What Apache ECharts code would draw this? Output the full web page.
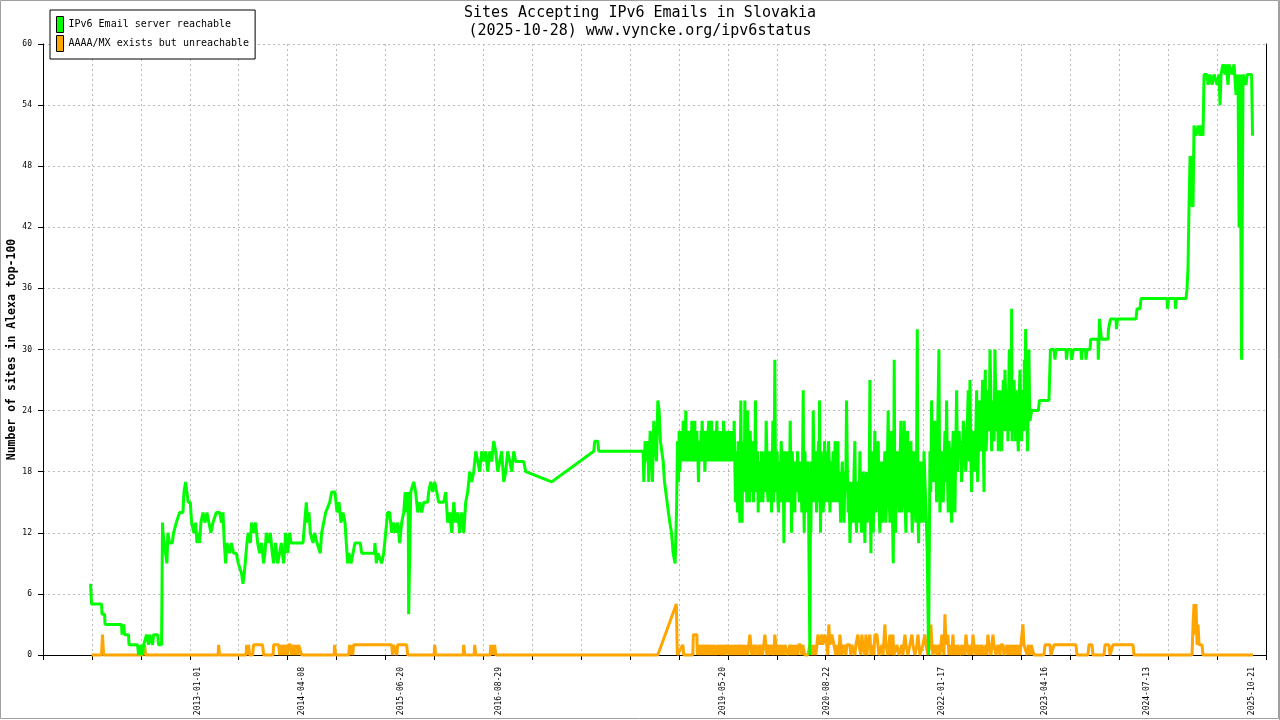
<!DOCTYPE html>
<html><head><meta charset="utf-8">
<script src="https://cdn.jsdelivr.net/npm/echarts@6/dist/echarts.min.js"></script>
<style>html,body{margin:0;padding:0;background:#fff}#chart{width:1280px;height:720px}</style>
</head><body><div id="chart"></div>
<script>
const titleLines = ['Sites Accepting IPv6 Emails in Slovakia', '(2025-10-28) www.vyncke.org/ipv6status'];
const seriesNames = ['IPv6 Email server reachable', 'AAAA/MX exists but unreachable'];
const seriesColors = ['#00ff00', '#ffa500'];
const yAxisName = 'Number of sites in Alexa top-100';
const yMin = 0, yMax = 60, yStep = 6;
const tickDates = ['2013-01-01','2014-04-08','2015-06-20','2016-08-29','2019-05-20','2020-08-22','2022-01-17','2023-04-16','2024-07-13','2025-10-21'];

// [decimal year, sites]
const reachable = [
[2011.701,7],[2011.713,5],[2011.834,5],[2011.840,4],[2011.871,4],[2011.877,3],[2012.077,3],[2012.083,2],[2012.102,3],[2012.114,2],
[2012.162,2],[2012.168,1],[2012.223,1],[2012.272,1],[2012.284,0],[2012.296,1],[2012.308,0],[2012.320,1],[2012.332,0],[2012.345,1],
[2012.369,1],[2012.381,2],[2012.405,1],[2012.418,2],[2012.442,2],[2012.454,1],[2012.466,2],[2012.515,2],[2012.527,1],[2012.563,1],
[2012.575,13],[2012.580,12],[2012.600,12],[2012.628,9],[2012.640,12],[2012.661,11],[2012.693,11],[2012.709,12],[2012.733,12],[2012.742,13],
[2012.782,14],[2012.823,14],[2012.835,16],[2012.855,17],[2012.871,16],[2012.887,15],[2012.912,15],[2012.928,13],[2012.956,12],[2012.976,13],
[2012.993,11],[2013.009,12],[2013.025,11],[2013.041,13],[2013.066,14],[2013.090,13],[2013.114,14],[2013.138,13],[2013.163,12],[2013.187,13],
[2013.211,13],[2013.228,14],[2013.268,14],[2013.292,13],[2013.309,14],[2013.325,11],[2013.341,9],[2013.357,11],[2013.390,10],[2013.410,11],
[2013.438,10],[2013.471,10],[2013.495,9],[2013.519,9],[2013.535,8],[2013.552,7],[2013.568,8],[2013.584,8],[2013.600,11],[2013.616,12],
[2013.641,11],[2013.657,13],[2013.681,12],[2013.705,13],[2013.730,11],[2013.754,10],[2013.778,11],[2013.803,9],[2013.819,10],[2013.835,12],
[2013.859,11],[2013.884,12],[2013.908,10],[2013.924,9],[2013.948,11],[2013.973,9],[2013.997,10],[2014.017,11],[2014.046,9],[2014.070,12],
[2014.094,10],[2014.119,12],[2014.135,11],[2014.281,11],[2014.301,13],[2014.321,15],[2014.337,13],[2014.353,14],[2014.370,12],[2014.402,11],
[2014.422,12],[2014.451,11],[2014.475,11],[2014.491,10],[2014.507,12],[2014.532,13],[2014.556,14],[2014.580,14],[2014.605,15],[2014.629,16],
[2014.669,16],[2014.694,14],[2014.718,15],[2014.742,13],[2014.767,14],[2014.791,13],[2014.807,11],[2014.823,9],[2014.839,10],[2014.864,9],
[2014.888,10],[2014.912,11],[2014.937,11],[2014.977,11],[2014.993,10],[2015.147,10],[2015.155,11],[2015.172,9],[2015.192,10],
[2015.212,10],[2015.236,9],[2015.261,10],[2015.285,12],[2015.309,14],[2015.334,14],[2015.358,12],[2015.382,13],[2015.406,12],[2015.431,13],
[2015.455,11],[2015.479,13],[2015.504,14],[2015.522,16],[2015.540,14],[2015.558,16],[2015.564,4],[2015.577,10],[2015.589,16],[2015.613,16],
[2015.625,17],[2015.649,16],[2015.674,14],[2015.698,15],[2015.722,14],[2015.747,15],[2015.795,15],[2015.807,16],[2015.832,17],[2015.856,16],
[2015.880,17],[2015.905,16],[2015.929,15],[2015.990,15],[2016.014,16],[2016.038,13],[2016.063,14],[2016.087,12],[2016.111,15],[2016.135,13],
[2016.160,14],[2016.184,12],[2016.208,14],[2016.233,12],[2016.257,15],[2016.281,16],[2016.306,18],[2016.330,17],[2016.354,18],[2016.379,20],
[2016.403,20],[2016.427,18],[2016.451,20],[2016.476,19],[2016.500,20],[2016.524,18],[2016.549,20],[2016.573,19],[2016.597,21],[2016.621,20],
[2016.646,18],[2016.670,19],[2016.694,20],[2016.719,17],[2016.743,18],[2016.767,20],[2016.792,19],[2016.816,18],[2016.840,20],[2016.864,19],
[2016.913,19],[2016.961,19],[2016.986,18],[2017.301,17],[2017.812,20],[2017.824,21],[2017.861,21],[2017.873,20],[2018.371,20],
[2018.412,20],[2018.420,17],[2018.436,21],[2018.452,19],[2018.468,21],[2018.480,17],[2018.497,22],[2018.513,21],[2018.525,17],[2018.541,23],
[2018.557,21],[2018.574,19],[2018.590,25],[2018.606,24],[2018.622,21],[2018.638,20],[2018.655,19],[2018.671,17],[2018.687,16],[2018.703,15],
[2018.719,14],[2018.736,13],[2018.756,12],[2018.776,10],[2018.800,9],[2018.817,14],[2018.829,21],[2018.841,17],[2018.857,18],[2018.873,21],
[2018.885,19],[2018.898,23],[2018.914,19],[2018.930,24],[2018.942,19],[2018.958,22],[2018.970,20],[2018.987,22],[2019.003,23],[2019.019,19],
[2019.039,23],[2019.055,20],[2019.072,22],[2019.084,17],[2019.100,20],[2019.116,22],[2019.128,23],[2019.145,19],[2019.161,18],[2019.177,22],
[2019.193,20],[2019.209,23],[2019.226,21],[2019.242,23],[2019.258,20],[2019.274,21],[2019.290,19],[2019.307,23],[2019.323,20],[2019.339,22],
[2019.355,21],[2019.371,22],[2019.388,23],[2019.404,20],[2019.420,22],[2019.436,21],[2019.452,22],[2019.469,20],[2019.485,22],[2019.501,20],
[2019.517,23],[2019.533,15],[2019.546,19],[2019.558,14],[2019.574,20],[2019.586,13],[2019.598,25],[2019.614,13],[2019.631,20],[2019.647,25],
[2019.663,18],[2019.679,24],[2019.695,17],[2019.712,22],[2019.728,16],[2019.744,18],[2019.760,21],[2019.776,25],[2019.793,17],[2019.809,14],
[2019.825,19],[2019.841,16],[2019.857,19],[2019.874,17],[2019.890,20],[2019.906,23],[2019.922,16],[2019.938,20],[2019.955,17],[2019.971,14],
[2019.987,23],[2020.003,18],[2020.011,29],[2020.023,16],[2020.040,20],[2020.056,14],[2020.072,19],[2020.088,21],[2020.104,16],[2020.121,11],
[2020.137,20],[2020.153,15],[2020.169,18],[2020.185,16],[2020.198,23],[2020.214,12],[2020.230,18],[2020.246,15],[2020.262,19],[2020.279,16],
[2020.295,18],[2020.311,15],[2020.327,19],[2020.339,14],[2020.356,26],[2020.368,12],[2020.384,18],[2020.396,14],[2020.412,16],[2020.424,11],
[2020.437,0],[2020.449,12],[2020.465,18],[2020.477,24],[2020.493,15],[2020.509,20],[2020.526,16],[2020.542,21],[2020.554,25],[2020.566,12],
[2020.582,17],[2020.598,14],[2020.615,21],[2020.631,15],[2020.647,20],[2020.663,21],[2020.680,14],[2020.696,19],[2020.712,18],[2020.728,15],
[2020.744,21],[2020.761,16],[2020.777,21],[2020.793,18],
[2020.801,16],[2020.821,17],[2020.842,15],[2020.862,18],[2020.882,25],[2020.902,14],[2020.923,11],[2020.943,17],[2020.963,13],[2020.983,21],
[2021.004,12],[2021.024,16],[2021.044,20],[2021.064,12],[2021.085,17],[2021.105,11],[2021.125,15],[2021.145,18],[2021.166,27],[2021.178,10],
[2021.194,20],[2021.206,12],[2021.226,22],[2021.247,16],[2021.267,21],[2021.287,12],[2021.307,19],[2021.328,14],[2021.348,20],[2021.368,15],
[2021.388,24],[2021.409,13],[2021.429,22],[2021.449,9],[2021.461,29],[2021.477,12],[2021.498,20],[2021.522,14],[2021.542,23],[2021.562,15],
[2021.583,23],[2021.603,12],[2021.623,22],[2021.643,14],[2021.664,21],[2021.680,12],[2021.700,20],[2021.724,13],[2021.741,32],[2021.757,11],
[2021.773,16],[2021.793,19],[2021.813,13],[2021.834,17],[2021.862,10],[2021.878,0],[2021.895,20],[2021.915,25],[2021.935,17],[2021.955,23],
[2021.976,15],[2021.992,24],[2022.004,30],[2022.016,14],[2022.036,20],[2022.057,15],[2022.077,22],[2022.097,25],[2022.117,14],[2022.138,19],
[2022.158,13],[2022.178,22],[2022.198,14],[2022.219,26],[2022.239,18],[2022.259,20],[2022.279,17],[2022.300,23],[2022.320,19],[2022.340,21],
[2022.360,26],[2022.381,27],[2022.401,16],[2022.421,22],[2022.441,18],[2022.462,26],[2022.474,17],[2022.494,25],[2022.514,20],[2022.534,27],
[2022.551,16],[2022.567,28],[2022.583,21],[2022.603,24],[2022.624,30],[2022.644,20],[2022.664,25],[2022.684,30],[2022.705,22],[2022.725,20],
[2022.745,26],[2022.765,20],[2022.786,27],[2022.806,28],[2022.826,22],[2022.842,21],[2022.858,30],[2022.875,23],[2022.887,34],[2022.899,24],
[2022.915,27],[2022.935,21],[2022.948,24],[2022.968,20],[2022.988,28],[2023.008,21],[2023.029,26],[2023.041,29],[2023.057,32],[2023.069,24],
[2023.081,20],[2023.097,30],[2023.110,23],[2023.130,24],[2023.211,24],
[2023.219,24],[2023.225,25],[2023.340,25],[2023.358,30],[2023.401,30],[2023.413,29],[2023.425,30],[2023.547,30],[2023.553,29],[2023.565,30],
[2023.608,30],[2023.614,29],[2023.632,29],[2023.638,30],[2023.729,30],[2023.735,29],[2023.747,30],[2023.784,30],[2023.790,29],[2023.802,30],
[2023.839,30],[2023.847,31],[2023.936,31],[2023.939,29],[2023.948,31],[2023.954,33],[2023.972,33],[2023.978,31],[2024.057,31],[2024.063,32],
[2024.082,32],[2024.088,33],[2024.154,33],[2024.160,32],[2024.173,33],[2024.397,33],[2024.410,34],[2024.446,34],[2024.458,35],[2024.774,35],
[2024.780,34],[2024.792,35],[2024.871,35],[2024.877,34],[2024.889,35],[2025.005,35],[2025.017,36],[2025.029,38],[2025.041,44],[2025.054,49],
[2025.066,44],[2025.078,49],[2025.090,44],[2025.102,52],[2025.126,51],[2025.151,52],[2025.175,51],[2025.187,52],[2025.211,51],[2025.224,57],
[2025.260,57],[2025.272,56],[2025.297,57],[2025.321,56],[2025.345,57],[2025.382,56],[2025.406,57],[2025.418,54],[2025.430,57],[2025.454,58],
[2025.479,57],[2025.491,58],[2025.515,56],[2025.527,58],[2025.564,57],[2025.588,58],[2025.612,55],[2025.625,57],[2025.637,56],[2025.649,42],
[2025.661,57],[2025.679,29],[2025.697,57],[2025.734,56],[2025.746,57],[2025.801,57],[2025.807,54],[2025.813,51]
];

// further readings in the dense daily-noise period 2018-2023
const reachableDense = [
[2018.837,19],[2018.849,22],[2018.865,20],[2018.879,22],[2018.891,20],[2018.906,22],[2018.922,21],[2018.936,19],[2018.950,22],[2018.964,19],
[2018.978,21],[2018.995,19],[2019.011,21],[2019.029,20],[2019.047,19],[2019.063,22],[2019.078,19],[2019.092,21],[2019.108,19],[2019.122,20],
[2019.136,21],[2019.153,22],[2019.169,20],[2019.185,19],[2019.201,22],[2019.217,19],[2019.234,22],[2019.250,19],[2019.266,22],[2019.282,19],
[2019.298,21],[2019.315,19],[2019.331,21],[2019.347,19],[2019.363,20],[2019.379,19],[2019.396,21],[2019.412,19],[2019.428,20],[2019.444,19],
[2019.460,21],[2019.477,19],[2019.493,21],[2019.509,19],
[2019.540,20],[2019.552,16],[2019.566,21],[2019.580,16],[2019.592,19],[2019.606,17],[2019.622,21],[2019.639,16],[2019.655,20],[2019.671,15],
[2019.687,20],[2019.703,15],[2019.720,19],[2019.736,21],[2019.752,15],[2019.768,19],[2019.785,16],[2019.801,20],[2019.817,18],[2019.833,15],
[2019.849,20],[2019.866,15],[2019.882,19],[2019.898,16],[2019.914,20],[2019.930,15],[2019.946,19],[2019.963,20],[2019.979,17],[2019.995,15],
[2020.017,20],[2020.031,17],[2020.048,15],[2020.064,18],[2020.080,15],[2020.096,19],[2020.112,20],[2020.129,17],[2020.145,19],[2020.161,20],
[2020.177,15],[2020.192,19],[2020.206,17],[2020.222,20],[2020.238,16],[2020.254,14],[2020.270,18],[2020.287,20],[2020.303,16],
[2020.319,19],[2020.333,16],[2020.348,19],[2020.362,15],[2020.376,20],[2020.390,15],[2020.404,19],[2020.418,19],[2020.443,14],[2020.457,19],
[2020.471,15],[2020.485,19],[2020.501,15],[2020.517,14],[2020.534,19],[2020.548,15],[2020.560,18],[2020.574,20],[2020.590,19],[2020.607,16],
[2020.623,18],[2020.639,16],[2020.655,15],[2020.672,19],[2020.688,17],[2020.704,15],[2020.720,20],[2020.736,19],[2020.752,15],[2020.769,18],
[2020.785,15],
[2020.811,13],[2020.831,19],[2020.852,13],[2020.872,16],[2020.892,18],[2020.912,17],[2020.933,14],[2020.953,16],[2020.973,18],[2020.993,14],
[2021.014,17],[2021.034,13],[2021.054,15],[2021.074,18],[2021.095,14],[2021.115,18],[2021.135,13],[2021.155,15],[2021.172,14],[2021.186,17],
[2021.200,15],[2021.216,17],[2021.236,14],[2021.257,19],[2021.277,14],[2021.297,17],[2021.317,13],[2021.338,18],[2021.358,13],[2021.378,19],
[2021.398,16],[2021.419,18],[2021.439,14],[2021.455,16],[2021.469,15],[2021.487,18],[2021.510,16],
[2021.532,19],[2021.552,14],[2021.572,19],[2021.593,15],[2021.613,18],[2021.633,16],[2021.653,19],[2021.672,15],[2021.690,17],[2021.712,15],
[2021.732,18],[2021.749,14],[2021.765,19],[2021.783,13],[2021.803,17],[2021.823,20],[2021.848,14],
[2021.905,16],[2021.925,18],[2021.945,20],[2021.965,19],[2021.984,18],[2022.010,21],[2022.026,18],[2022.046,16],[2022.067,19],[2022.087,17],
[2022.107,18],[2022.127,21],[2022.148,16],[2022.168,20],[2022.188,17],[2022.208,20],[2022.229,18],[2022.249,22],[2022.269,21],[2022.290,19],
[2022.310,22],[2022.330,18],[2022.350,23],[2022.371,19],[2022.391,20],[2022.411,21],[2022.431,20],[2022.452,22],[2022.468,21],[2022.484,20],
[2022.504,23],
[2022.524,24],[2022.543,21],[2022.559,25],[2022.575,20],[2022.593,26],[2022.614,22],[2022.634,26],[2022.654,24],[2022.674,21],[2022.695,25],
[2022.715,26],[2022.735,23],[2022.755,22],[2022.776,24],[2022.796,22],[2022.816,25],[2022.834,26],[2022.850,25],[2022.866,22],[2022.881,27],
[2022.893,21],[2022.907,22],[2022.925,25],[2022.941,26],[2022.958,22],[2022.978,25],[2022.998,23],[2023.018,25],[2023.035,22],[2023.049,24],
[2023.063,27],[2023.075,22],[2023.089,24],[2023.104,25],[2023.120,23]
];

const unreachable = [
[2011.713,0],[2011.834,0],[2011.846,2],[2011.859,0],[2012.332,0],[2012.339,1],[2012.351,0],[2012.357,1],[2012.369,0],[2013.250,0],
[2013.256,1],[2013.268,0],[2013.590,0],[2013.596,1],[2013.608,0],[2013.620,1],[2013.633,0],[2013.669,0],[2013.681,1],[2013.790,1],
[2013.803,0],[2013.918,0],[2013.924,1],[2013.985,1],[2013.997,0],[2014.009,1],[2014.021,0],[2014.033,1],[2014.058,0],[2014.070,1],
[2014.094,0],[2014.106,1],[2014.131,1],[2014.143,0],[2014.155,1],[2014.179,0],[2014.191,1],[2014.216,0],[2014.228,1],[2014.252,1],
[2014.264,0],[2014.659,0],[2014.665,1],[2014.677,0],[2014.835,0],[2014.848,1],[2014.860,0],[2014.872,1],[2014.884,0],[2014.896,1],
[2015.358,1],[2015.370,0],[2015.382,1],[2015.406,1],[2015.419,0],[2015.431,1],[2015.540,1],[2015.552,0],[2015.874,0],[2015.880,1],
[2015.892,0],[2016.226,0],[2016.233,1],[2016.245,0],[2016.360,0],[2016.366,1],[2016.379,0],[2016.555,0],[2016.561,1],[2016.573,0],
[2016.585,1],[2016.597,0],[2016.609,1],[2016.621,0],[2018.590,0],[2018.815,5],[2018.827,0],
[2018.893,1],[2018.906,0],[2019.015,0],[2019.021,2],[2019.064,2],[2019.070,0],[2019.136,0],[2019.143,1],[2019.173,1],[2019.179,0],
[2019.197,1],[2019.222,0],[2019.234,1],[2019.258,1],[2019.264,0],[2019.282,1],[2019.307,0],[2019.343,0],[2019.349,1],[2019.379,0],
[2019.392,1],[2019.416,0],[2019.428,1],[2019.452,0],[2019.465,1],[2019.489,1],[2019.501,0],[2019.513,1],[2019.537,0],[2019.574,0],
[2019.580,1],[2019.622,1],[2019.635,0],[2019.659,0],[2019.665,1],[2019.695,1],[2019.708,2],[2019.720,1],[2019.732,0],[2019.768,0],
[2019.774,1],[2019.817,1],[2019.829,0],[2019.841,1],[2019.878,1],[2019.890,2],[2019.902,1],[2019.926,0],[2019.938,1],[2019.975,1],
[2019.999,0],[2020.011,2],[2020.023,1],[2020.048,1],[2020.060,0],[2020.084,1],[2020.121,0],[2020.133,1],[2020.169,0],[2020.194,1],
[2020.279,1],[2020.291,0],[2020.315,1],[2020.339,0],[2020.364,1],[2020.388,0],[2020.412,0],[2020.437,1],[2020.522,1],[2020.534,2],
[2020.558,1],[2020.582,2],[2020.594,1],[2020.619,2],[2020.643,1],[2020.655,0],[2020.667,3],[2020.680,1],[2020.704,2],[2020.728,1],
[2020.752,0],[2020.777,1],[2020.801,2],[2020.813,1],[2020.825,0],[2020.850,1],[2020.874,0],[2020.898,1],[2020.910,1],[2020.935,0],
[2020.959,1],[2020.983,0],[2021.008,1],[2021.020,2],[2021.044,1],[2021.068,2],[2021.093,1],[2021.117,2],[2021.141,1],[2021.166,2],
[2021.178,0],[2021.202,1],[2021.226,2],[2021.251,2],[2021.263,1],[2021.287,0],[2021.311,1],[2021.348,3],[2021.360,1],[2021.384,0],
[2021.409,2],[2021.433,1],[2021.445,2],[2021.469,0],[2021.494,1],[2021.518,0],[2021.554,1],[2021.591,2],[2021.603,1],[2021.627,0],
[2021.652,1],[2021.676,2],[2021.688,1],[2021.712,0],[2021.737,1],[2021.749,2],[2021.761,1],[2021.785,0],[2021.809,1],[2021.834,2],
[2021.846,1],[2021.870,0],[2021.895,1],[2021.907,3],[2021.919,1],[2021.943,0],[2021.967,1],[2021.992,1],[2022.016,0],[2022.040,2],
[2022.052,1],[2022.077,4],[2022.089,1],[2022.113,2],[2022.125,0],[2022.150,1],[2022.174,2],[2022.186,0],[2022.210,1],[2022.247,1],
[2022.259,0],[2022.283,1],[2022.332,2],[2022.344,1],[2022.368,0],[2022.393,1],[2022.417,2],[2022.429,1],[2022.453,0],[2022.478,1],
[2022.514,0],[2022.538,1],[2022.575,1],[2022.599,2],[2022.611,1],[2022.636,0],[2022.660,2],[2022.672,1],[2022.696,0],[2022.721,1],
[2022.745,0],[2022.769,1],[2022.806,0],[2022.830,1],[2022.867,0],[2022.891,1],[2022.927,0],[2022.952,1],[2022.988,0],[2023.012,1],
[2023.024,3],[2023.037,1],[2023.146,1],[2023.158,0],[2023.280,0],[2023.292,1],[2023.353,1],[2023.365,0],[2023.389,0],[2023.401,1],
[2023.668,1],[2023.681,0],[2023.814,0],[2023.826,1],[2023.863,1],[2023.875,0],[2024.009,0],[2024.021,1],[2024.069,1],[2024.082,0],
[2024.106,0],[2024.118,1],[2024.361,1],[2024.373,0],[2025.078,0],[2025.090,3],[2025.102,5],[2025.114,2],[2025.126,5],[2025.139,1],
[2025.151,3],[2025.163,1],[2025.199,1],[2025.211,0],[2025.819,0]
];

const unreachableDense = [
[2019.090,1],[2019.100,0],[2019.115,1],[2019.125,0],[2019.160,0],[2019.210,1],[2019.245,0],[2019.295,0],[2019.325,1],[2019.335,0],
[2019.360,1],[2019.370,0],[2019.405,0],[2019.440,1],[2019.478,0],[2019.525,1],[2019.550,1],[2019.562,0],[2019.600,0],[2019.610,1],
[2019.645,1],[2019.680,0],[2019.745,1],[2019.755,0],[2019.790,1],[2019.800,0],[2019.860,0],[2019.914,0],[2019.955,0],[2019.965,1],
[2020.036,0],[2020.072,1],[2020.100,0],[2020.110,1],[2020.150,1],[2020.180,0],[2020.210,0],[2020.225,1],[2020.240,0],[2020.255,1],
[2020.265,0],[2020.300,1],[2020.325,1],[2020.350,1],[2020.375,0],[2020.450,0],[2020.465,1],[2020.480,0],[2020.495,1],[2020.508,0],
[2020.764,1],[2020.790,0],[2020.838,0],[2020.862,1],[2020.886,1],[2020.922,1],[2020.947,1],[2020.971,1],[2020.995,1],[2021.032,1],
[2021.056,0],[2021.080,1],[2021.105,0],[2021.129,0],[2021.154,1],[2021.190,1],[2021.214,0],[2021.275,0],[2021.299,0],[2021.325,0],
[2021.372,1],[2021.396,1],[2021.421,0],[2021.457,0],[2021.481,0],[2021.506,1],[2021.530,0],[2021.542,0],[2021.566,0],[2021.578,1],
[2021.615,1],[2021.640,0],[2021.664,1],[2021.700,1],[2021.725,0],[2021.773,0],[2021.797,0],[2021.821,1],[2021.858,1],[2021.882,0],
[2021.931,0],[2021.955,1],[2021.980,0],[2022.004,1],[2022.028,1],[2022.065,0],[2022.101,1],[2022.138,1],[2022.162,0],[2022.198,0],
[2022.222,0],[2022.235,1],[2022.271,0],[2022.295,0],[2022.308,1],[2022.320,0],[2022.356,1],[2022.380,1],[2022.405,0],[2022.441,1],
[2022.466,1],[2022.490,0],[2022.502,1],[2022.526,1],[2022.550,0],[2022.563,0],[2022.587,0],[2022.623,1],[2022.648,1],[2022.684,1],
[2022.709,0],[2022.733,1],[2022.757,1],[2022.782,1],[2022.794,0],[2022.818,0],[2022.842,0],[2022.855,1],[2022.879,0],[2022.903,0],
[2022.915,1],[2022.940,1],[2022.964,0],[2022.976,1],[2023.000,1],[2023.060,1],[2023.075,0],[2023.090,1],[2023.110,0],[2023.125,1]
];

function byTime(a, b) { return a[0] - b[0]; }
const reachableAll = reachable.concat(reachableDense).sort(byTime);
const unreachableAll = unreachable.concat(unreachableDense).sort(byTime);

// axis layout (not data): ticks every 217 days, 25 intervals
const X_MIN = 2011.1233;
const X_STEP = 217 / 365.25;
const X_MAX = X_MIN + 25 * X_STEP;

function decYear(s) {
  const p = s.split('-').map(Number);
  const a = Date.UTC(p[0], 0, 1), b = Date.UTC(p[0] + 1, 0, 1);
  return p[0] + (Date.UTC(p[0], p[1] - 1, p[2]) - a) / (b - a);
}
const tickVals = tickDates.map(decYear);
function labelFor(v) {
  let best = '', bd = Infinity;
  tickVals.forEach((t, i) => { const d = Math.abs(t - v); if (d < bd) { bd = d; best = tickDates[i]; } });
  return best;
}

const MONO = 'DejaVu Sans Mono';
const gridLine = { show: true, lineStyle: { color: '#bbbbbb', type: [2, 3], width: 1 } };

const chart = echarts.init(document.getElementById('chart'), null, { renderer: 'canvas' });
chart.setOption({
  animation: false,
  backgroundColor: '#ffffff',
  title: {
    text: titleLines.join('\n'), left: 'center', top: 4, padding: 0,
    textStyle: { fontFamily: MONO, fontSize: 15, fontWeight: 'normal', lineHeight: 18, color: '#000' }
  },
  legend: {
    data: seriesNames, orient: 'vertical', left: 50, top: 10,
    padding: [6, 6, 7, 6], itemGap: 2, itemWidth: 7, itemHeight: 16, icon: 'rect',
    borderColor: '#000', borderWidth: 1, backgroundColor: '#fff',
    itemStyle: { borderColor: '#000', borderWidth: 1 },
    textStyle: { fontFamily: MONO, fontSize: 10, color: '#000' }
  },
  grid: { left: 43, right: 14, top: 44, bottom: 65, containLabel: false, outerBoundsMode: 'none' },
  xAxis: [
    {
      type: 'value', min: X_MIN, max: X_MAX, position: 'bottom',
      axisLine: { show: true, onZero: false, lineStyle: { color: '#000', width: 1 } },
      axisTick: { show: false }, splitLine: { show: false },
      axisLabel: {
        customValues: tickVals, formatter: labelFor, rotate: 90, margin: 12,
        fontFamily: MONO, fontSize: 8, color: '#000'
      }
    },
    {
      type: 'value', min: 0, max: 25, interval: 1, position: 'bottom',
      axisLine: { show: false, onZero: false },
      axisTick: { show: true, length: 5, lineStyle: { color: '#000' } },
      axisLabel: { show: false },
      splitLine: gridLine
    }
  ],
  yAxis: [
    {
      type: 'value', min: yMin, max: yMax, interval: yStep, position: 'left',
      name: yAxisName, nameLocation: 'middle', nameGap: 25, nameRotate: 90, nameMoveOverlap: false,
      nameTextStyle: { fontFamily: MONO, fontSize: 11.5, fontWeight: 'bold', color: '#000' },
      axisLine: { show: true, onZero: false, lineStyle: { color: '#000' } },
      axisTick: { show: true, length: 5, lineStyle: { color: '#000' } },
      axisLabel: { fontFamily: MONO, fontSize: 8, margin: 11, color: '#000' },
      splitLine: gridLine
    },
    {
      type: 'value', min: yMin, max: yMax, position: 'right',
      axisLine: { show: true, onZero: false, lineStyle: { color: '#000' } },
      axisTick: { show: false }, axisLabel: { show: false }, splitLine: { show: false }
    }
  ],
  series: [
    {
      name: seriesNames[1], type: 'line', xAxisIndex: 0, yAxisIndex: 0, data: unreachableAll,
      symbol: 'none', showSymbol: false, clip: false, color: seriesColors[1],
      lineStyle: { width: 3, color: seriesColors[1] }, z: 2
    },
    {
      name: seriesNames[0], type: 'line', xAxisIndex: 0, yAxisIndex: 0, data: reachableAll,
      symbol: 'none', showSymbol: false, clip: false, color: seriesColors[0],
      lineStyle: { width: 3, color: seriesColors[0] }, z: 3
    }
  ],
  graphic: [
    { type: 'rect', silent: true, shape: { x: 0.5, y: 0.5, width: 1278, height: 718 }, style: { fill: null, stroke: '#a0a0a0', lineWidth: 1 } },
    { type: 'line', silent: true, shape: { x1: 1279.5, y1: 0, x2: 1279.5, y2: 720 }, style: { stroke: '#a0a0a0', lineWidth: 1 } }
  ]
});
</script>
</body></html>
